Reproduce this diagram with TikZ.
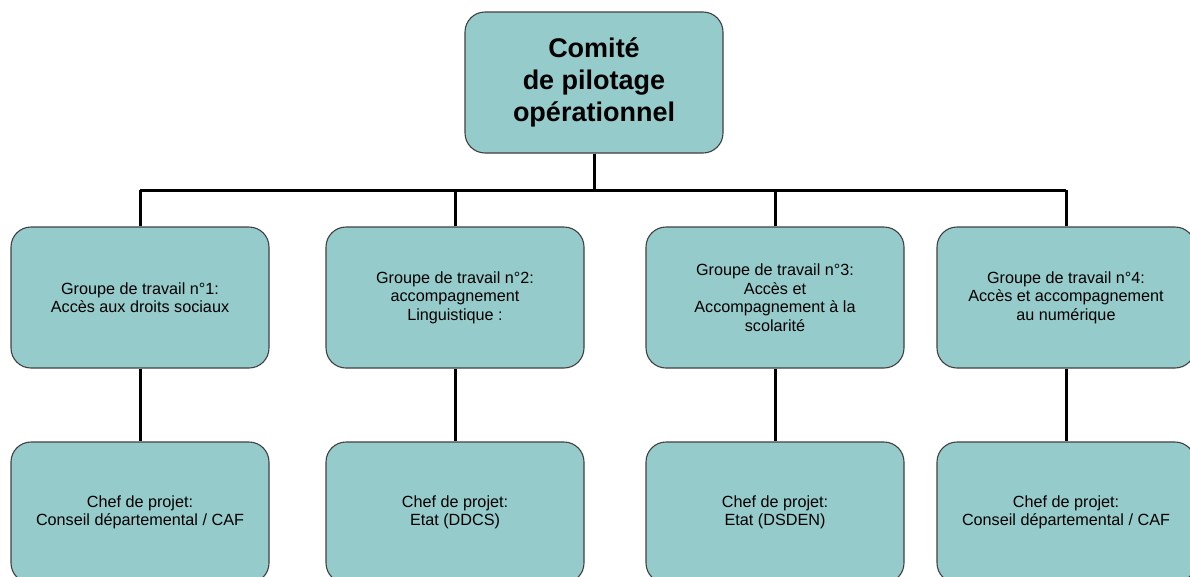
\documentclass[tikz,border=0pt]{standalone}
\usepackage{fontspec}
\setmainfont{Liberation Sans}
\definecolor{boxfill}{HTML}{96CBCB}
\definecolor{boxline}{HTML}{404040}
\begin{document}
\begin{tikzpicture}[x=1pt,y=-1pt,
  orgbox/.style={draw=boxline, line width=1.1pt, fill=boxfill, rounded corners=20pt,
    minimum width=258pt, minimum height=141pt, align=center, inner sep=4pt,
    font=\fontsize{16.2}{18.5}\selectfont},
  topbox/.style={orgbox, font=\fontsize{27}{32}\selectfont\bfseries},
  link/.style={line width=3pt, black}]
\useasboundingbox (0,0) rectangle (1190,576);
\clip (0,0) rectangle (1190,576);
\node[topbox] (top) at (594,82.5) {Comité\\de pilotage\\opérationnel};
\node[orgbox] (g1) at (140,297.5) {Groupe de travail n°1:\\Accès aux droits sociaux};
\node[orgbox] (g2) at (455,297.5) {Groupe de travail n°2:\\accompagnement\\Linguistique :};
\node[orgbox] (g3) at (775,297.5) {Groupe de travail n°3:\\Accès et\\Accompagnement à la\\scolarité};
\node[orgbox] (g4) at (1066,297.5) {Groupe de travail n°4:\\Accès et accompagnement\\au numérique};
\node[orgbox] (c1) at (140,512.5) {Chef de projet:\\Conseil départemental / CAF};
\node[orgbox] (c2) at (455,512.5) {Chef de projet:\\Etat (DDCS)};
\node[orgbox] (c3) at (775,512.5) {Chef de projet:\\Etat (DSDEN)};
\node[orgbox] (c4) at (1066,512.5) {Chef de projet:\\Conseil départemental / CAF};
\coordinate (busL) at (140,190);
\coordinate (busR) at (1066,190);
\draw[link] (busL) -- (busR);
\draw[link] (top.south) -- (top.south |- busL);
\foreach \g in {g1,g2,g3,g4}{\draw[link] (\g.north) -- (\g.north |- busL);}
\draw[link] (g1.south) -- (c1.north);
\draw[link] (g2.south) -- (c2.north);
\draw[link] (g3.south) -- (c3.north);
\draw[link] (g4.south) -- (c4.north);
\end{tikzpicture}
\end{document}
